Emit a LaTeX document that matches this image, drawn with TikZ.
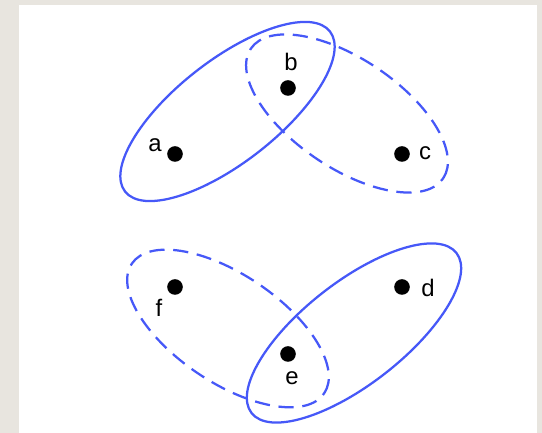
\documentclass[tikz,border=0pt]{standalone}
\usepackage{fontspec}
\setmainfont{Liberation Sans}
\usepackage{tikz}
\definecolor{edgeblue}{RGB}{70,88,248}
\definecolor{framegray}{RGB}{232,229,223}

\begin{document}
\begin{tikzpicture}[x=0.025cm,y=0.025cm,
    vertex/.style={circle,fill=black,inner sep=0pt,minimum size=0.39cm},
    tag/.style={font=\fontsize{17}{20}\selectfont,text=black,inner sep=0pt},
    hedge/.style={draw=edgeblue,line width=1.6pt},
    hedgedash/.style={hedge,dash pattern=on 10.8pt off 6.2pt}]
    % frame
    \fill[framegray] (0,0) rectangle (542,433);
    \fill[white] (19,0) rectangle (537,428);
    \useasboundingbox (0,0) rectangle (542,433);
    % hyperedges
    \draw[hedge,rotate around={38:(227.5,321.5)}] (227.5,321.5) ellipse [x radius=130,y radius=51];
    \draw[hedgedash,rotate around={-34:(347,319.5)}] (347,319.5) ellipse [x radius=116,y radius=54.5];
    \draw[hedgedash,rotate around={-34:(228,104.5)}] (228,104.5) ellipse [x radius=116,y radius=54];
    \draw[hedge,rotate around={38:(354,100)}] (354,100) ellipse [x radius=130,y radius=51];
    % vertices
    \node[vertex] (a) at (175,279) {};
    \node[vertex] (b) at (288,345) {};
    \node[vertex] (c) at (402,279) {};
    \node[vertex] (d) at (402,146) {};
    \node[vertex] (e) at (288,79) {};
    \node[vertex] (f) at (175,146) {};
    % labels
    \node[tag] (la) at (155,288) {a};
    \node[tag] (lb) at (291,371) {b};
    \node[tag] (lc) at (425,280) {c};
    \node[tag] (ld) at (428,145) {d};
    \node[tag] (le) at (292,55) {e};
    \node[tag] (lf) at (159,125) {f};
\end{tikzpicture}
\end{document}
